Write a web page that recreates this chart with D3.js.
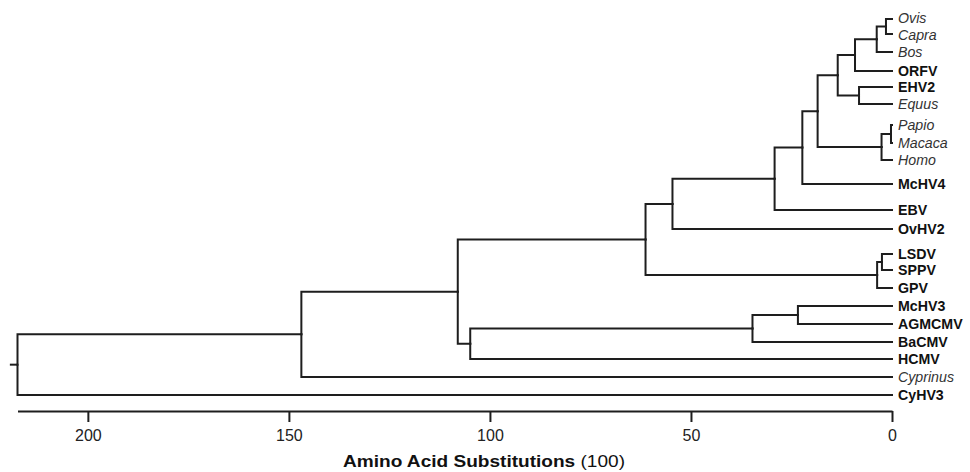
<!DOCTYPE html>
<html>
<head>
<meta charset="utf-8">
<script src="https://cdn.jsdelivr.net/npm/d3@7"></script>
<style>
  html, body { margin: 0; padding: 0; background: #fff; }
  svg { display: block; }
  text { font-family: "Liberation Sans", Arial, Helvetica, sans-serif; }
</style>
</head>
<body>
<svg id="chart" width="970" height="472"></svg>
<script>
// ---- DATA ----
const leafNames  = ["Ovis","Capra","Bos","ORFV","EHV2","Equus","Papio","Macaca","Homo","McHV4","EBV","OvHV2","LSDV","SPPV","GPV","McHV3","AGMCMV","BaCMV","HCMV","Cyprinus","CyHV3"];
const leafItalic = [true,true,true,false,false,true,true,true,true,false,false,false,false,false,false,false,false,false,false,true,false];
const leafRows   = [0,0.85,1.88,2.95,3.86,4.83,6.02,7.05,8.01,9.37,10.85,11.93,13.35,14.26,15.28,16.31,17.33,18.35,19.32,20.34,21.36];

const nodeIds      = ["A","B","C","D","E","PM","Pri","F","G","H","I","LS","Pox","J","MA","N","L","K","M","Root"];
const nodeChildren = [["Ovis","Capra"],["A","Bos"],["B","ORFV"],["EHV2","Equus"],["C","D"],["Papio","Macaca"],["PM","Homo"],["E","Pri"],["F","McHV4"],["G","EBV"],["H","OvHV2"],["LSDV","SPPV"],["LS","GPV"],["I","Pox"],["McHV3","AGMCMV"],["MA","BaCMV"],["N","HCMV"],["J","L"],["K","Cyprinus"],["M","CyHV3"]];
const nodeHeights  = [1.5,3.8,9.2,8.2,13.5,0.25,2.6,18.5,22.3,29.2,54.6,2.5,3.7,61.3,23.4,34.7,104.9,108,146.9,217.5];
const rootEdge     = 1.9;

const axisTicks  = [200,150,100,50,0];
const axisTitleBold = "Amino Acid Substitutions";
const axisTitleRest = " (100)";

// ---- BUILD TREE ----
const nodeMap = {};
leafNames.forEach((n,i) => nodeMap[n] = {name:n, height:0, row:leafRows[i], italic:leafItalic[i]});
nodeIds.forEach((id,i) => nodeMap[id] = {name:id, height:nodeHeights[i], kids:nodeChildren[i]});
function build(id){
  const n = nodeMap[id];
  const o = {name:n.name, height:n.height, row:n.row, italic:n.italic};
  if (n.kids) o.children = n.kids.map(build);
  return o;
}
const root = d3.hierarchy(build("Root"));

// ---- SCALES ----
const x = d3.scaleLinear().domain([217.5, 0]).range([17.5, 892]);
const y = d3.scaleLinear().domain([0, 21.36]).range([19, 395]);

root.eachAfter(d => {
  d.px = x(d.data.height);
  if (!d.children) d.py = y(d.data.row);
  else d.py = (d.children[0].py + d.children[d.children.length-1].py) / 2;
});

const svg = d3.select("#chart");
const g = svg.append("g");

// links (elbow)
const links = root.links();
g.selectAll("path.link").data(links).join("path")
  .attr("class","link")
  .attr("fill","none")
  .attr("stroke","#1e1e1e")
  .attr("stroke-width",2)
  .attr("stroke-linejoin","miter")
  .attr("stroke-linecap","square")
  .attr("d", l => `M${l.source.px},${l.source.py}V${l.target.py}H${l.target.px}`);

// root edge
g.append("path")
  .attr("fill","none").attr("stroke","#1e1e1e").attr("stroke-width",2)
  .attr("d", `M${x(root.data.height + rootEdge)},${root.py}H${root.px}`);

// leaf labels, lightly spread so adjacent names do not collide
const leaves = root.leaves();
leaves.forEach(d => d.ly = d.py);
const minGap = 16.6;
for (let pass = 0; pass < 20; pass++) {
  for (let i = 1; i < leaves.length; i++) {
    const a = leaves[i-1], b = leaves[i];
    const gap = b.ly - a.ly;
    if (gap < minGap) {
      const push = (minGap - gap) / 2;
      a.ly -= push; b.ly += push;
    }
  }
}
g.selectAll("text.leaf").data(leaves).join("text")
  .attr("class","leaf")
  .attr("x", d => d.px + 6)
  .attr("y", d => d.ly)
  .attr("dy","0.36em")
  .attr("font-size", 14.2)
  .attr("font-style", d => d.data.italic ? "italic" : "normal")
  .attr("font-weight", d => d.data.italic ? "normal" : "bold")
  .attr("fill", d => d.data.italic ? "#333" : "#111")
  .text(d => d.data.name);

// axis
const axis = d3.axisBottom(x).tickValues(axisTicks).tickSize(11).tickSizeOuter(0).tickPadding(8).tickFormat(d3.format("d"));
const ax = svg.append("g").attr("transform","translate(0,411)").call(axis);
ax.select(".domain").attr("stroke","#1e1e1e").attr("stroke-width",2);
ax.selectAll(".tick line").attr("stroke","#1e1e1e").attr("stroke-width",2);
ax.selectAll(".tick text").attr("font-size",16).attr("fill","#222")
  .attr("font-family","'Liberation Sans', Arial, sans-serif");

// axis title
const t = svg.append("text")
  .attr("x", 343).attr("y", 467)
  .attr("font-size", 16.5).attr("fill","#111")
  .attr("textLength", 282).attr("lengthAdjust","spacingAndGlyphs");
t.append("tspan").attr("font-weight","bold").text(axisTitleBold);
t.append("tspan").attr("font-weight","normal").text(axisTitleRest);
</script>
</body>
</html>
